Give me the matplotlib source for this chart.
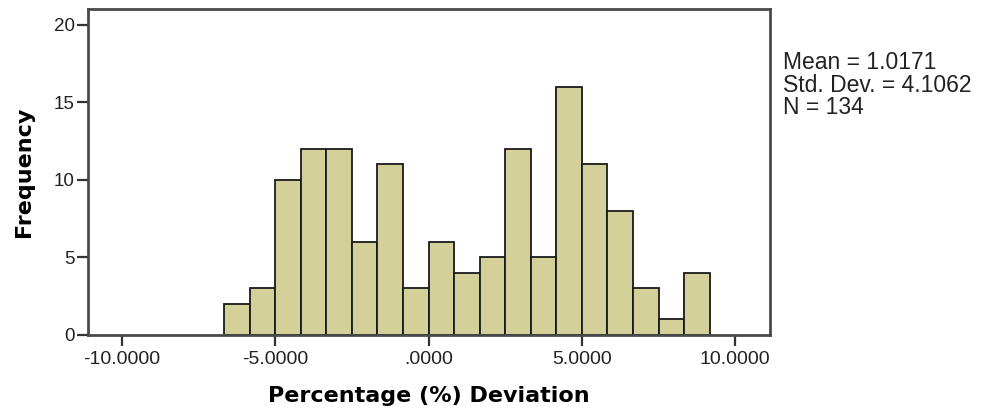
import matplotlib
matplotlib.use("Agg")
import matplotlib.pyplot as plt
import numpy as np

# histogram counts, bins of width 5/6 aligned on 0
bin_width = 5.0 / 6.0
first_edge = -8 * bin_width
counts = [2, 3, 10, 12, 12, 6, 11, 3, 6, 4, 5, 12, 5, 16, 11, 8, 3, 1, 4]
x_ticks = [-10, -5, 0, 5, 10]
x_ticklabels = ["-10.0000", "-5.0000", ".0000", "5.0000", "10.0000"]
y_ticks = [0, 5, 10, 15, 20]
stats_text = "Mean = 1.0171\nStd. Dev. = 4.1062\nN = 134"

edges = first_edge + bin_width * np.arange(len(counts) + 1)

fig = plt.figure(figsize=(9.85, 4.15), dpi=100)
ax = fig.add_axes([0.0894, 0.193, 0.6923, 0.785])

ax.bar(edges[:-1], counts, width=bin_width, align="edge",
       color="#d4d09a", edgecolor="#1a1a1a", linewidth=1.3)

ax.set_xlim(-11.1, 11.13)
ax.set_ylim(0, 21)
ax.set_xticks(x_ticks)
ax.set_xticklabels(x_ticklabels, family="Liberation Sans", fontsize=14)
ax.set_yticks(y_ticks)
ax.set_yticklabels([str(v) for v in y_ticks], family="Liberation Sans", fontsize=13.5)
ax.tick_params(axis="both", direction="out", length=8, width=1.6, color="#333333",
               labelcolor="#222222")
ax.tick_params(axis="x", pad=3.5)
ax.tick_params(axis="y", pad=1.5)

for s in ax.spines.values():
    s.set_color("#4a4a4a")
    s.set_linewidth(2)

ax.set_xlabel("Percentage (%) Deviation", fontsize=16, fontweight="bold",
              family="DejaVu Sans")
ax.set_ylabel("Frequency", fontsize=16, fontweight="bold",
              family="DejaVu Sans")
ax.xaxis.set_label_coords(0.5, -0.158)
ax.yaxis.set_label_coords(-0.08, 0.5)

fig.text(0.795, 0.877, stats_text, family="Liberation Sans", fontsize=16.5,
         va="top", ha="left", linespacing=0.97, color="#222222")

fig.savefig("out.png", dpi=100)
